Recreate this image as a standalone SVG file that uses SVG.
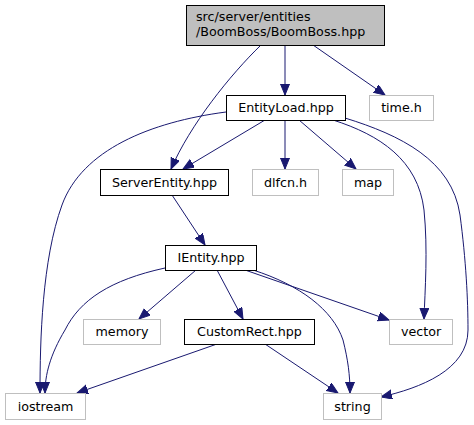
<svg xmlns="http://www.w3.org/2000/svg" width="474" height="425" viewBox="0 0 474 425">
<style>
.n rect{fill:#fff;stroke:#000;stroke-width:1}
.x rect{fill:#fff;stroke:#bfbfbf;stroke-width:1}
.r rect{fill:#bfbfbf;stroke:#000;stroke-width:1}
text{font-family:"DejaVu Sans",sans-serif;font-size:12.7px;fill:#000}
.c{text-anchor:middle}
#edges path{fill:none;stroke:#191970;stroke-width:1;marker-end:url(#ah)}
</style>
<defs>
<marker id="ah" markerUnits="userSpaceOnUse" markerWidth="13" markerHeight="11" refX="11" refY="4.5" orient="auto">
<path d="M0,0 L11,4.5 L0,9 z" fill="#191970" stroke="#191970" stroke-width="1"/>
</marker>
</defs>
<rect width="474" height="425" fill="#fff"/>
<g id="edges">
<path d="M285,45 L285,95"/>
<path d="M313,45 L385,95"/>
<path d="M261,45 C230,75 190,125 171,169"/>
<path d="M265,120 L183,169"/>
<path d="M285,120 L285,169"/>
<path d="M299,120 L356,169"/>
<path d="M226,112 C150,122 82,150 62,205 C42,260 40,340 40,393"/>
<path d="M333,120 C380,135 418,160 424,210 C428,250 425,290 424,319"/>
<path d="M345,118 C400,135 452,160 460,215 C466,260 468,300 468,330 C468,370 420,388 381,397"/>
<path d="M172,195 L205,245"/>
<path d="M165,268 C110,280 80,300 65,330 C50,355 45,375 45,393"/>
<path d="M196,270 L139,319"/>
<path d="M217,270 L243,319"/>
<path d="M245,270 L389,320"/>
<path d="M253,270 C300,285 333,310 343,340 C348,360 350,375 350,393"/>
<path d="M217,344 L77,393"/>
<path d="M265,344 L338,393"/>
</g>
<g id="root" class="r"><rect x="186.5" y="5.5" width="198" height="40"/><text x="196" y="20.5">src/server/entities</text><text x="196" y="35.5">/BoomBoss/BoomBoss.hpp</text></g>
<g id="entityload" class="n"><rect x="226.5" y="95.5" width="119" height="25"/><text class="c" x="286" y="112">EntityLoad.hpp</text></g>
<g id="time" class="x"><rect x="369.5" y="95.5" width="64" height="25"/><text class="c" x="401.5" y="112">time.h</text></g>
<g id="serverentity" class="n"><rect x="100.5" y="169.5" width="128" height="26"/><text class="c" x="164.5" y="186.5">ServerEntity.hpp</text></g>
<g id="dlfcn" class="x"><rect x="252.5" y="169.5" width="66" height="26"/><text class="c" x="285.5" y="186.5">dlfcn.h</text></g>
<g id="map" class="x"><rect x="342.5" y="169.5" width="51" height="26"/><text class="c" x="368" y="186.5">map</text></g>
<g id="ientity" class="n"><rect x="165.5" y="245.5" width="91" height="25"/><text class="c" x="211" y="262">IEntity.hpp</text></g>
<g id="memory" class="x"><rect x="83.5" y="319.5" width="77" height="25"/><text class="c" x="122" y="336">memory</text></g>
<g id="customrect" class="n"><rect x="184.5" y="319.5" width="130" height="25"/><text class="c" x="249.5" y="336">CustomRect.hpp</text></g>
<g id="vector" class="x"><rect x="389.5" y="319.5" width="63" height="25"/><text class="c" x="421" y="336">vector</text></g>
<g id="iostream" class="x"><rect x="5.5" y="393.5" width="80" height="26"/><text class="c" x="45.5" y="410.5">iostream</text></g>
<g id="string" class="x"><rect x="323.5" y="393.5" width="58" height="26"/><text class="c" x="352.5" y="410.5">string</text></g>
</svg>
